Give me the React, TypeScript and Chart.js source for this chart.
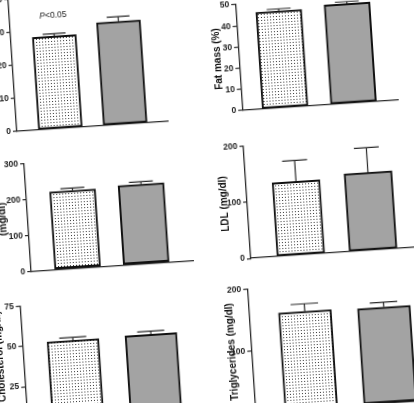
import React, { useEffect, useRef } from "react";
import { Chart, registerables } from "chart.js";

Chart.register(...registerables);
Chart.defaults.font.family = "'Liberation Sans', Arial, sans-serif";

// ---------- data ----------
const groups = ["Group 1", "Group 2"];
const groupPositions = [1, 2];

const bmiMean = [28.1, 31.3];
const bmiSem = [0.7, 1.4];
const bmiTicks = [0, 10, 20, 30, 40];

const fatMassMean = [45.7, 47.0];
const fatMassSem = [1.0, 1.0];
const fatMassTicks = [0, 10, 20, 30, 40, 50];

const cholMean = [217, 222.5];
const cholSem = [7, 6.5];
const cholTicks = [0, 100, 200, 300];

const ldlMean = [131.7, 139];
const ldlSem = [37.4, 44.4];
const ldlTicks = [0, 100, 200];

const hdlMean = [51.8, 52.3];
const hdlSem = [1.9, 2.0];
const hdlTicks = [0, 25, 50, 75];

const tgMean = [158, 156.5];
const tgSem = [12.6, 8.2];
const tgTicks = [0, 100, 200];

const pValueNote = "<0.05";

// ---------- styles / layout ----------
const AXIS = "#2a2a2a";
const GREY = "#a3a3a3";
const TITLE_SIZE = 10;
const TITLE_LH = TITLE_SIZE * 1.2;
const PAD_T = 8;
const PAD_B = 8;
const PAD_R = 6;

type Geo = {
  ax: number; y0: number; ppu: number; c1: number; c2: number;
  barW: number; xEnd?: number; titleX?: number;
};

const GEO: Record<string, Geo> = {
  bmi: { ax: 21.5, y0: 119.4, ppu: 3.3, c1: 65, c2: 130, barW: 44, xEnd: 172 },
  fat: { ax: 248, y0: 113.4, ppu: 2.12, c1: 291, c2: 359.5, barW: 46, xEnd: 403, titleX: 226.8 },
  chol: { ax: 27, y0: 259.2, ppu: 0.3577, c1: 73.5, c2: 142.3, barW: 46, xEnd: 189, titleX: 2 },
  ldl: { ax: 247, y0: 260.7, ppu: 0.5605, c1: 297.1, c2: 369.5, barW: 48, titleX: 224 },
  hdl: { ax: 13.3, y0: 414.5, ppu: 1.602, c1: 64, c2: 142.2, barW: 52, titleX: -10 },
  tg: { ax: 241.5, y0: 413.9, ppu: 0.612, c1: 297.5, c2: 376.6, barW: 53, titleX: 222.2 },
};

function makeDotPattern(ctx: CanvasRenderingContext2D) {
  const t = document.createElement("canvas");
  t.width = 3;
  t.height = 3;
  const c = t.getContext("2d")!;
  c.fillStyle = "#ffffff";
  c.fillRect(0, 0, 3, 3);
  c.fillStyle = "#333333";
  c.fillRect(1, 1, 1, 1);
  return ctx.createPattern(t, "repeat")!;
}

type PanelProps = {
  means: number[];
  sems: number[];
  ticks: number[];
  title?: string;
  geo: Geo;
};

function Panel({ means, sems, ticks, title, geo }: PanelProps) {
  const ref = useRef<HTMLCanvasElement>(null);
  const max = ticks[ticks.length - 1];
  const plotH = max * geo.ppu;
  const yTop = geo.y0 - plotH;
  const left = geo.titleX != null ? geo.titleX - TITLE_LH / 2 : geo.ax - 30;
  const top = yTop - PAD_T;
  const xEnd = geo.xEnd ?? geo.c2 + (geo.c1 - geo.ax);
  const width = Math.ceil(xEnd - left + PAD_R);
  const height = Math.ceil(plotH + PAD_T + PAD_B);
  const padB = height - PAD_T - plotH;
  const yAxisW = geo.ax - left;
  const plotW = width - PAD_R - yAxisW;
  const k = geo.c2 - geo.c1;
  const xmin = groupPositions[0] - (geo.c1 - geo.ax) / k;
  const xmax = xmin + plotW / k;

  useEffect(() => {
    const canvas = ref.current!;
    const ctx = canvas.getContext("2d")!;
    const pattern = makeDotPattern(ctx);

    const errorPlugin = {
      id: "errorBars",
      afterDatasetsDraw(chart: any) {
        const meta = chart.getDatasetMeta(0);
        const ys = chart.scales.y;
        const c = chart.ctx;
        c.save();
        c.strokeStyle = AXIS;
        c.lineWidth = 1.2;
        meta.data.forEach((bar: any, i: number) => {
          const p = bar.getProps(["x", "width"], true);
          const yv = ys.getPixelForValue(means[i]);
          const ye = ys.getPixelForValue(means[i] + sems[i]);
          const half = p.width * 0.26;
          c.beginPath();
          c.moveTo(p.x, yv);
          c.lineTo(p.x, ye);
          c.moveTo(p.x - half, ye);
          c.lineTo(p.x + half, ye);
          c.stroke();
        });
        c.restore();
      },
    };

    const chart = new Chart(canvas, {
      type: "bar",
      data: {
        datasets: [
          {
            label: groups.join(" / "),
            data: groupPositions.map((x, i) => ({ x, y: means[i] })),
            backgroundColor: [pattern, GREY],
            borderColor: "#111111",
            borderWidth: 2,
            borderSkipped: false,
            barThickness: geo.barW,
            grouped: false,
          } as any,
        ],
      },
      options: {
        animation: false,
        responsive: false,
        devicePixelRatio: 1,
        layout: { padding: { top: PAD_T, bottom: padB, left: 0, right: PAD_R } },
        plugins: { legend: { display: false }, tooltip: { enabled: false } },
        scales: {
          x: {
            type: "linear",
            min: xmin,
            max: xmax,
            offset: false,
            bounds: "data",
            ticks: { display: false },
            grid: { display: false, offset: false },
            border: { display: true, color: AXIS, width: 1.3 },
            afterFit: (s: any) => {
              s.height = 0;
            },
          },
          y: {
            type: "linear",
            min: 0,
            max,
            afterBuildTicks: (s: any) => {
              s.ticks = ticks.map((v) => ({ value: v }));
            },
            ticks: {
              font: { size: 8.5, weight: "bold" },
              color: "#222222",
              padding: 2,
            },
            grid: {
              drawOnChartArea: false,
              drawTicks: true,
              tickLength: 4,
              color: AXIS,
              lineWidth: 1.2,
            },
            border: { display: true, color: AXIS, width: 1.3 },
            title: title
              ? {
                  display: true,
                  text: title,
                  padding: 0,
                  color: "#111111",
                  font: { size: TITLE_SIZE, weight: "bold" },
                }
              : { display: false },
            afterFit: (s: any) => {
              s.width = yAxisW;
            },
          },
        } as any,
      },
      plugins: [errorPlugin],
    });
    return () => chart.destroy();
  }, []);

  return (
    <canvas
      ref={ref}
      width={width}
      height={height}
      style={{
        position: "absolute",
        left: `${left}px`,
        top: `${top}px`,
        width: `${width}px`,
        height: `${height}px`,
        display: "block",
      }}
    />
  );
}

export default function App() {
  return (
    <div
      style={{
        position: "fixed",
        left: 0,
        top: 0,
        width: 414,
        height: 403,
        overflow: "hidden",
        background: "#ffffff",
      }}
    >
      <div
        style={{
          position: "absolute",
          left: 0,
          top: 0,
          width: 414,
          height: 403,
          transform: "rotate(-3.8deg)",
          transformOrigin: "207px 201px",
        }}
      >
        <Panel means={bmiMean} sems={bmiSem} ticks={bmiTicks} geo={GEO.bmi} />
        <Panel means={fatMassMean} sems={fatMassSem} ticks={fatMassTicks} title="Fat mass (%)" geo={GEO.fat} />
        <Panel means={cholMean} sems={cholSem} ticks={cholTicks} title="(mg/dl)" geo={GEO.chol} />
        <Panel means={ldlMean} sems={ldlSem} ticks={ldlTicks} title="LDL (mg/dl)" geo={GEO.ldl} />
        <Panel means={hdlMean} sems={hdlSem} ticks={hdlTicks} title="HDL Cholesterol (mg/dl)" geo={GEO.hdl} />
        <Panel means={tgMean} sems={tgSem} ticks={tgTicks} title="Triglycerides (mg/dl)" geo={GEO.tg} />
        <span
          style={{
            position: "absolute",
            left: 65.6,
            top: 5.2,
            transform: "translate(-50%, -50%)",
            font: "8.5px 'Liberation Sans', Arial, sans-serif",
            color: "#222222",
            whiteSpace: "nowrap",
          }}
        >
          <i>P</i>
          {pValueNote}
        </span>
      </div>
    </div>
  );
}
